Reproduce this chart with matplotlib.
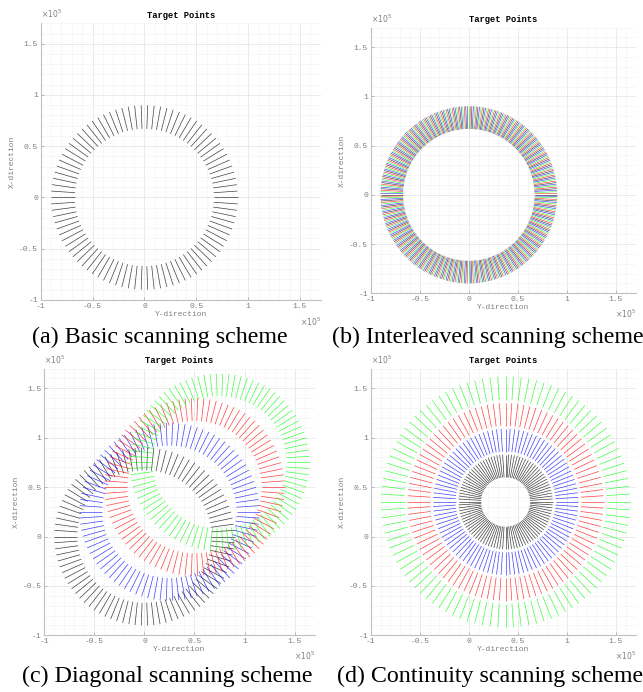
import matplotlib.pyplot as plt
import numpy as np
from matplotlib.collections import LineCollection

# all lengths in units of 1e5
tick_vals = [-1, -0.5, 0, 0.5, 1, 1.5]
tick_text = ['-1', '-0.5', '0', '0.5', '1', '1.5']
lim = (-1, 1.7)

GREEN = (0, 1, 0)

# basic ring
r_in = 0.67
r_out = 0.90
n_seg = 90

# interleaved: four passes with a small angular shift each
inter_shift = [0, 1, 2, 3]          # degrees
inter_colors = ['k', 'r', GREEN, 'b']

# diagonal: same ring moved along the diagonal
diag_centers = [0.0, 0.25, 0.5, 0.75]
diag_colors = ['k', 'b', 'r', GREEN]

# continuity: concentric rings around one centre
cont_center = (0.375, 0.35)
cont_inner = [0.25, 0.51, 0.77, 1.03]
cont_outer = [0.48, 0.74, 1.00, 1.27]
cont_colors = ['k', 'b', 'r', GREEN]
cont_nseg = 100

captions = ['(a) Basic scanning scheme', '(b) Interleaved scanning scheme',
            '(c) Diagonal scanning scheme', '(d) Continuity scanning scheme']

MONO = 'Liberation Mono'
GRAY = '#7f7f7f'


def ring(cx, cy, r0, r1, n, shift=0.0):
    th = np.deg2rad(np.arange(n) * 360.0 / n + shift)
    c, s = np.cos(th), np.sin(th)
    p0 = np.column_stack([cx + r0 * c, cy + r0 * s])
    p1 = np.column_stack([cx + r1 * c, cy + r1 * s])
    return np.stack([p0, p1], axis=1)


def style(ax):
    ax.set_xlim(lim)
    ax.set_ylim(lim)
    ax.set_xticks(tick_vals)
    ax.set_yticks(tick_vals)
    ax.set_xticklabels(tick_text)
    ax.set_yticklabels(tick_text)
    ax.set_xticks(np.arange(-1, 1.71, 0.1), minor=True)
    ax.set_yticks(np.arange(-1, 1.71, 0.1), minor=True)
    ax.grid(which='major', color='#e6e6e6', lw=0.6)
    ax.grid(which='minor', color='#f4f4f4', lw=0.5)
    ax.set_axisbelow(True)
    for sp in ['top', 'right']:
        ax.spines[sp].set_visible(False)
    for sp in ['left', 'bottom']:
        ax.spines[sp].set_color('#c0c0c0')
        ax.spines[sp].set_linewidth(0.8)
    ax.tick_params(which='major', direction='in', length=2.5, width=0.6,
                   color='#b0b0b0', labelsize=5.8, labelcolor=GRAY, pad=2)
    ax.tick_params(which='minor', length=0)
    for t in ax.get_xticklabels() + ax.get_yticklabels():
        t.set_fontfamily(MONO)
    ax.set_title('Target Points', fontfamily=MONO, fontweight='bold',
                 fontsize=6.3, pad=4)
    ax.set_xlabel('Y-direction', fontfamily=MONO, fontsize=5.8, color=GRAY, labelpad=1)
    ax.set_ylabel('X-direction', fontfamily=MONO, fontsize=5.8, color=GRAY, labelpad=2)
    ax.text(0, 1.01, r'$\times10^5$', transform=ax.transAxes, fontsize=5.5,
            color=GRAY, ha='left', va='bottom')
    ax.text(1, -0.055, r'$\times10^5$', transform=ax.transAxes, fontsize=5.5,
            color=GRAY, ha='right', va='top')


fig = plt.figure(figsize=(6.43, 6.92), dpi=100)
plt.rcParams['mathtext.fontset'] = 'dejavusans'

ax_a = fig.add_axes([0.0633, 0.5665, 0.4355, 0.3999])
ax_b = fig.add_axes([0.5765, 0.5762, 0.412, 0.384])
ax_c = fig.add_axes([0.0689, 0.0819, 0.4204, 0.3855])
ax_d = fig.add_axes([0.5765, 0.0819, 0.412, 0.3855])

lw = 0.5

# (a)
ax_a.add_collection(LineCollection(ring(0, 0, r_in, r_out, n_seg), colors='k',
                                   linewidths=lw, alpha=0.75))

# (b)
for sh, col in zip(inter_shift, inter_colors):
    ax_b.add_collection(LineCollection(ring(0, 0, r_in, r_out, n_seg, sh),
                                       colors=col, linewidths=0.45, alpha=0.75))

# (c)
for c, col in zip(diag_centers, diag_colors):
    ax_c.add_collection(LineCollection(ring(c, c, r_in, r_out, n_seg), colors=col,
                                       linewidths=lw, alpha=0.75))

# (d)
for r0, r1, col in zip(cont_inner, cont_outer, cont_colors):
    ax_d.add_collection(LineCollection(ring(cont_center[0], cont_center[1], r0, r1, cont_nseg),
                                       colors=col, linewidths=lw, alpha=0.75))

for ax in [ax_a, ax_b, ax_c, ax_d]:
    style(ax)

cap_pos = [(0.050, 0.513), (0.516, 0.513), (0.034, 0.023), (0.524, 0.023)]
for (x, y), txt in zip(cap_pos, captions):
    fig.text(x, y, txt, fontfamily='Liberation Serif', fontsize=17.3, ha='left', va='center')

fig.savefig('out.png', dpi=100)
